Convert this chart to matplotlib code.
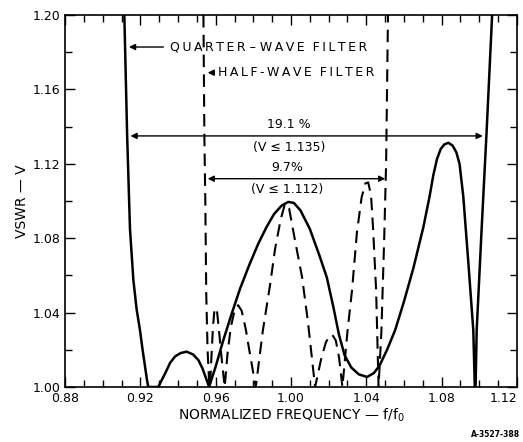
import matplotlib.pyplot as plt

# quarter-wave filter (solid)
qw_f = [0.9115, 0.9130, 0.9145, 0.9163, 0.9180, 0.9198, 0.9212, 0.9225,
        0.9235, 0.9242, 0.9295, 0.9310, 0.9335, 0.9358, 0.9385, 0.9415,
        0.9446, 0.9480, 0.9508, 0.9530, 0.9552, 0.9565, 0.9600, 0.9640,
        0.9687, 0.9730, 0.9780, 0.9826, 0.9870, 0.9910, 0.9950, 0.9985,
        1.0015, 1.0050, 1.0100, 1.0150, 1.0190, 1.0225, 1.0255, 1.0285,
        1.0320, 1.0360, 1.0404, 1.0440, 1.0470, 1.0510, 1.0553, 1.0600,
        1.0650, 1.0703, 1.0735, 1.0756, 1.0775, 1.0795, 1.0815, 1.0836,
        1.0858, 1.0878, 1.0895, 1.0915, 1.0942, 1.0968, 1.0976, 1.0980,
        1.0986, 1.1012, 1.1039, 1.1068]
qw_v = [1.200, 1.135, 1.085, 1.0575, 1.042, 1.0306, 1.020, 1.011,
        1.004, 1.000, 1.000, 1.003, 1.008, 1.013, 1.0165, 1.0183,
        1.019, 1.0175, 1.0145, 1.010, 1.0038, 1.000, 1.011, 1.025,
        1.040, 1.053, 1.066, 1.077, 1.086, 1.093, 1.0975, 1.0995,
        1.099, 1.095, 1.085, 1.071, 1.059, 1.043, 1.028, 1.017,
        1.0105, 1.0068, 1.0054, 1.0075, 1.0115, 1.020, 1.0306, 1.046,
        1.064, 1.086, 1.102, 1.114, 1.1225, 1.128, 1.1305, 1.1313,
        1.1298, 1.1262, 1.120, 1.1023, 1.0665, 1.0306, 1.000, 1.000,
        1.0306, 1.0844, 1.138, 1.200]

# half-wave filter (dashed)
hw_f = [0.9535, 0.9540, 0.9545, 0.9550, 0.9557, 0.9565, 0.9570, 0.9577,
        0.9585, 0.9592, 0.9600, 0.9608, 0.9618, 0.9632, 0.9648, 0.9662,
        0.9680, 0.9700, 0.9719, 0.9738, 0.9760, 0.9785, 0.9813, 0.9850,
        0.9889, 0.9915, 0.9945, 0.9968, 0.9990, 1.0021, 1.0059, 1.0090,
        1.0128, 1.0160, 1.0185, 1.0205, 1.0220, 1.0238, 1.0255, 1.0273,
        1.0300, 1.0324, 1.0350, 1.0375, 1.0395, 1.0410, 1.0425, 1.0436,
        1.0452, 1.0465, 1.0480, 1.0495, 1.0505, 1.0515]
hw_v = [1.200, 1.135, 1.100, 1.050, 1.020, 1.003, 1.000, 1.015,
        1.031, 1.040, 1.0425, 1.040, 1.030, 1.015, 1.000, 1.017,
        1.032, 1.041, 1.044, 1.041, 1.031, 1.016, 1.000, 1.030,
        1.055, 1.074, 1.090, 1.0985, 1.096, 1.079, 1.059, 1.035,
        1.000, 1.015, 1.024, 1.0275, 1.028, 1.025, 1.016, 1.000,
        1.030, 1.052, 1.083, 1.102, 1.1095, 1.110, 1.103, 1.085,
        1.052, 1.000, 1.030, 1.080, 1.120, 1.200]

x_ticks = [0.88, 0.92, 0.96, 1.00, 1.04, 1.08, 1.12]
y_ticks = [1.00, 1.04, 1.08, 1.12, 1.16, 1.20]


def spaced(s):
    # the lettering on the original is widely spaced
    return "\u2009".join(s)


fig = plt.figure(figsize=(5.23, 4.42), dpi=100)
ax = fig.add_axes([0.1243, 0.1244, 0.8642, 0.8416])

ax.plot(qw_f, qw_v, color="black", lw=1.8, solid_joinstyle="round")
ax.plot(hw_f, hw_v, color="black", lw=1.5, dashes=(6, 3.5))

ax.set_xlim(0.88, 1.12)
ax.set_ylim(1.00, 1.20)
ax.set_xticks(x_ticks)
ax.set_xticklabels(["%.2f" % t for t in x_ticks])
ax.set_yticks(y_ticks)
ax.set_yticklabels(["%.2f" % t for t in y_ticks])
ax.set_xticks([0.88 + 0.01 * i for i in range(25)], minor=True)
ax.set_yticks([1.00 + 0.02 * i for i in range(11)], minor=True)
ax.tick_params(which="both", direction="in", top=True, right=True,
               labelsize=9, width=1)
ax.tick_params(which="major", length=7)
ax.tick_params(which="minor", length=5)
ax.get_xticklabels()[-1].set_ha("right")
for s in ax.spines.values():
    s.set_linewidth(1.2)

ax.set_xlabel("NORMALIZED FREQUENCY — f/f$_0$", fontsize=10, labelpad=1)
ax.set_ylabel("VSWR — V", fontsize=10, labelpad=2)

arrow = dict(arrowstyle="-|>", color="black", lw=1, mutation_scale=9)
both = dict(arrowstyle="<|-|>", color="black", lw=1, mutation_scale=9)

# filter labels
ax.annotate("", xy=(0.9125, 1.1828), xytext=(0.9337, 1.1828), arrowprops=arrow)
ax.text(0.9356, 1.1828, spaced("QUARTER") + " – " + spaced("WAVE") + "  " + spaced("FILTER"),
        fontsize=9, va="center")
ax.annotate("", xy=(0.9543, 1.169), xytext=(0.9605, 1.169), arrowprops=arrow)
ax.text(0.9612, 1.169, spaced("HALF-WAVE") + "  " + spaced("FILTER"),
        fontsize=9, va="center")

# bandwidth markers
ax.annotate("", xy=(0.9133, 1.135), xytext=(1.1033, 1.135), arrowprops=both)
ax.text(0.999, 1.1375, "19.1 %", fontsize=9, ha="center", va="bottom")
ax.text(0.999, 1.1325, "(V ≤ 1.135)", fontsize=9, ha="center", va="top")
ax.annotate("", xy=(0.9543, 1.112), xytext=(1.0515, 1.112), arrowprops=both)
ax.text(0.998, 1.1145, "9.7%", fontsize=9, ha="center", va="bottom")
ax.text(0.998, 1.1095, "(V ≤ 1.112)", fontsize=9, ha="center", va="top")

fig.text(0.995, 0.012, "A-3527-388", fontsize=5.5, ha="right", weight="bold")

fig.savefig("out.png", dpi=100)
